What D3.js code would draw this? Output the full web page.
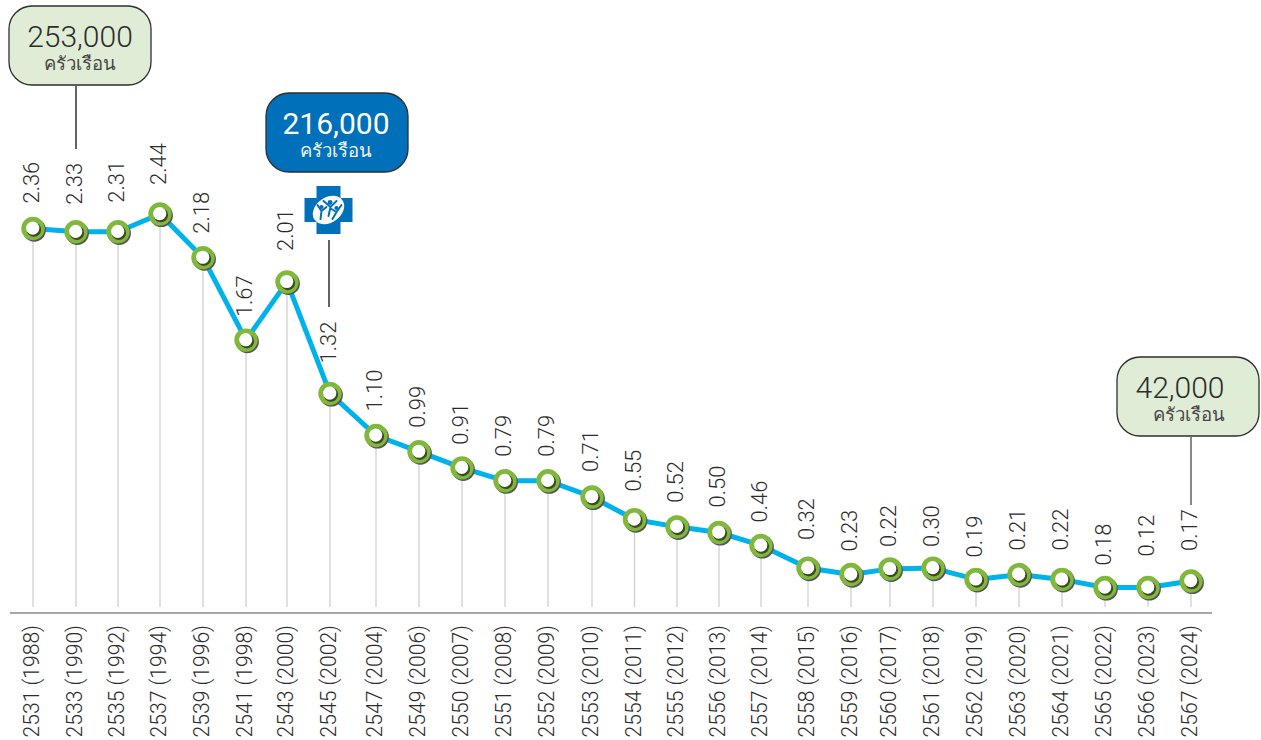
<!DOCTYPE html>
<html lang="th">
<head>
<meta charset="utf-8">
<script src="https://cdn.jsdelivr.net/npm/d3@7/dist/d3.min.js"></script>
<style>
html,body{margin:0;padding:0;background:#fff;}
svg{display:block;}
text{font-family:Roboto,"Liberation Sans",Arial,sans-serif;font-weight:300;}
</style>
</head>
<body>
<div id="chart"></div>
<script>
// ---- data ----
const categories = ["2531 (1988)","2533 (1990)","2535 (1992)","2537 (1994)","2539 (1996)","2541 (1998)","2543 (2000)","2545 (2002)","2547 (2004)","2549 (2006)","2550 (2007)","2551 (2008)","2552 (2009)","2553 (2010)","2554 (2011)","2555 (2012)","2556 (2013)","2557 (2014)","2558 (2015)","2559 (2016)","2560 (2017)","2561 (2018)","2562 (2019)","2563 (2020)","2564 (2021)","2565 (2022)","2566 (2023)","2567 (2024)"];
// values printed beside each point
const printedValues = ["2.36","2.33","2.31","2.44","2.18","1.67","2.01","1.32","1.10","0.99","0.91","0.79","0.79","0.71","0.55","0.52","0.50","0.46","0.32","0.23","0.22","0.30","0.19","0.21","0.22","0.18","0.12","0.17"];
// height at which each point is actually drawn in the picture
const drawnValues = [2.35,2.33,2.33,2.44,2.17,1.66,2.02,1.33,1.07,0.97,0.87,0.79,0.79,0.69,0.55,0.505,0.47,0.39,0.25,0.21,0.245,0.25,0.18,0.21,0.18,0.13,0.13,0.17];
const callouts = [
  {amount:"253,000", unit:"ครัวเรือน", index:1, theme:"green"},
  {amount:"216,000", unit:"ครัวเรือน", index:7, theme:"blue"},
  {amount:"42,000",  unit:"ครัวเรือน", index:27, theme:"green"}
];

// ---- layout ----
const W = 1261, H = 740;
const svg = d3.select("#chart").append("svg").attr("width",W).attr("height",H);
const x = d3.scaleLinear().domain([0,1,3,4,5,6,7,8,12,13,15,17,18,19,20,27]).range([33,76,160,203,246,287,330,376,548,592,677,761,808,851,890,1191]);
const y = d3.scaleLinear().domain([0,2.44]).range([608.5,214]);
const axisY = 613, stemEnd = 607;
const labelGap = [25,27,29,29,24,23,31,30,24,24,23,24,24,25,28,24,25,23,28,23,22,21,22,24,29,22,31,30];
const textFont = 'Roboto,"Liberation Sans",Arial,sans-serif';

const defs = svg.append("defs");
const blur = defs.append("filter").attr("id","soft").attr("x","-30%").attr("y","-30%").attr("width","160%").attr("height","160%");
blur.append("feGaussianBlur").attr("stdDeviation",0.7);

// drop lines
svg.append("g").selectAll("line").data(drawnValues).join("line")
  .attr("x1",(d,i)=>x(i)).attr("x2",(d,i)=>x(i))
  .attr("y1",d=>y(d)).attr("y2",stemEnd)
  .attr("stroke","#cfcfcf").attr("stroke-width",1.3);

// baseline
svg.append("line").attr("x1",x(0)-23).attr("x2",x(27)+21).attr("y1",axisY).attr("y2",axisY)
  .attr("stroke","#8a8a8a").attr("stroke-width",1.6);

// category axis
const axis = d3.axisBottom(x).tickValues(d3.range(categories.length)).tickFormat(i=>categories[i]).tickSize(0);
const gAxis = svg.append("g").attr("transform",`translate(0,${axisY})`).call(axis);
gAxis.attr("font-family",null);
gAxis.select(".domain").remove();
gAxis.selectAll(".tick").attr("transform",d=>`translate(${x(d)},0)`);
gAxis.selectAll("text")
  .attr("transform","rotate(-90) scale(0.96,1)")
  .attr("x",-12.5).attr("y",-1.5).attr("dy",7.7)
  .attr("text-anchor","end")
  .attr("font-size",22).attr("fill","#2c2c2c")
  .style("font-family",textFont).style("font-weight",300);

// line
svg.append("path").datum(drawnValues)
  .attr("d",d3.line().x((d,i)=>x(i)).y(d=>y(d)))
  .attr("fill","none").attr("stroke","#00b2ec").attr("stroke-width",5).attr("stroke-linejoin","round");

// markers
const m = svg.append("g").selectAll("g").data(drawnValues).join("g")
  .attr("transform",(d,i)=>`translate(${x(i)},${y(d)})`);
m.append("circle").attr("cx",1.3).attr("cy",1.5).attr("r",11.6).attr("fill","#555").attr("filter","url(#soft)");
m.append("circle").attr("r",11.7).attr("fill","#80b83c");
m.append("circle").attr("cx",0.9).attr("cy",1.1).attr("r",7.2).attr("fill","#3c4a20");
m.append("circle").attr("cx",-0.3).attr("cy",-0.4).attr("r",6.6).attr("fill","#fff");

// value labels
svg.append("g").selectAll("text").data(printedValues).join("text")
  .attr("transform",(d,i)=>`translate(${x(i)-1.5},${y(drawnValues[i])-labelGap[i]}) rotate(-90)`)
  .attr("dy",7.7)
  .attr("font-size",22).attr("fill","#2c2c2c").text(d=>d);

// callouts
const boxes = [{x:9,y:6,cx:80,ucx:80,lx:x(1),ly1:86,ly2:149},{x:266,y:93,cx:336,ucx:336,lx:x(7)-1,ly1:240,ly2:307},{x:1117,y:357,cx:1180,ucx:1189,lx:x(27),ly1:437,ly2:505}];
callouts.forEach((c,k)=>{
  const b = boxes[k], blue = c.theme==="blue";
  const g = svg.append("g");
  g.append("rect").attr("x",b.x).attr("y",b.y).attr("width",142).attr("height",79).attr("rx",23)
    .attr("fill",blue?"#0070bb":"#e0edd6").attr("stroke","#2e2e2e").attr("stroke-width",1.3);
  g.append("text").attr("x",b.cx).attr("y",b.y+41).attr("text-anchor","middle").attr("font-size",30)
    .attr("fill",blue?"#fff":"#2c2c2c").style("font-weight",blue?400:300).text(c.amount);
  g.append("text").attr("x",b.ucx).attr("y",b.y+64).attr("text-anchor","middle").attr("font-size",18.5)
    .attr("fill",blue?"#f2f7fb":"#444").text(c.unit);
  svg.append("line").attr("x1",b.lx).attr("x2",b.lx).attr("y1",b.ly1).attr("y2",b.ly2)
    .attr("stroke",k===2?"#555":"#222").attr("stroke-width",1.4);
});

// cross emblem
const e = svg.append("g").attr("transform","translate(328.5,210)");
e.append("path").attr("d","M-12,-24H12V-12H24V12H12V24H-12V12H-24V-12H-12Z").attr("fill","#0070bb");
e.append("ellipse").attr("rx",17).attr("ry",12.5).attr("transform","rotate(-35)").attr("fill","#fff");
const figures = e.append("g").attr("fill","none").attr("stroke","#0070bb").attr("stroke-width",2).attr("stroke-linecap","round");
figures.append("path").attr("d","M-8,9 L-7,1 M-11,-5 L-7,1 L-2,-3");
figures.append("path").attr("d","M0,6 L2,-3 M-5,-9 L2,-3 L8,-9");
figures.append("path").attr("d","M4,9 L8,2 M3,-1 L8,2 L13,-5");
e.append("circle").attr("cx",-7).attr("cy",-3).attr("r",2.1).attr("fill","#0070bb");
e.append("circle").attr("cx",1.6).attr("cy",-7.5).attr("r",2.4).attr("fill","#0070bb");
e.append("circle").attr("cx",8).attr("cy",-2).attr("r",2.1).attr("fill","#0070bb");
</script>
</body>
</html>
